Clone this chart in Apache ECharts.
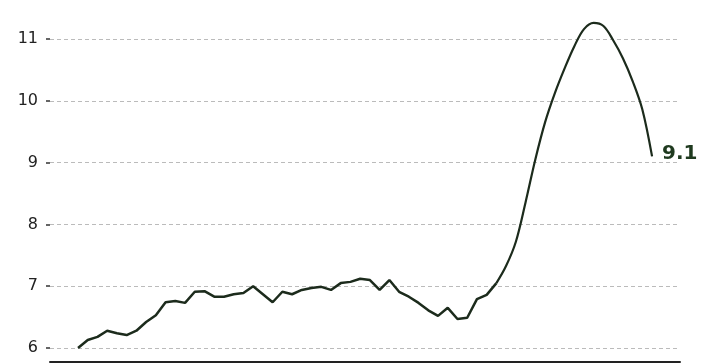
<!DOCTYPE html>
<html>
<head>
<meta charset="utf-8">
<script src="https://cdn.jsdelivr.net/npm/echarts@6/dist/echarts.min.js"></script>
<style>
  html, body { margin: 0; padding: 0; background: #fff; }
  #chart { width: 703px; height: 364px; }
</style>
</head>
<body>
<div id="chart"></div>
<script>
// values, one per period
var values = [
    6.00, 6.13, 6.18, 6.28, 6.24, 6.21, 6.28, 6.42, 6.53, 6.74,
    6.76, 6.73, 6.91, 6.92, 6.83, 6.83, 6.87, 6.89, 7.00, 6.87,
    6.74, 6.91, 6.87, 6.94, 6.97, 6.99, 6.94, 7.05, 7.07, 7.12,
    7.10, 6.94, 7.10, 6.91, 6.83, 6.73, 6.61, 6.52, 6.65, 6.47,
    6.49, 6.79, 6.86, 7.05, 7.33, 7.72, 8.36, 9.05, 9.65, 10.12,
    10.52, 10.88, 11.16, 11.26, 11.21, 10.98, 10.69, 10.32, 9.86, 9.10
];
var yTicks = [6, 7, 8, 9, 10, 11];
// the curve turns smooth from this point on
var smoothFrom = 43;

var chart = echarts.init(document.getElementById('chart'));

var rough = [], smooth = [];
values.forEach(function (v, i) {
    if (i <= smoothFrom) rough.push([i, v]);
    if (i >= smoothFrom) smooth.push([i, v]);
});

var lineColor = '#1c2b1c';

var option = {
    animation: false,
    backgroundColor: '#fff',
    grid: {
        left: 50,
        right: 23,
        top: 39,
        bottom: 16
    },
    xAxis: {
        type: 'value',
        min: -2.88,
        max: 61.87,
        offset: 14,
        axisLine: { show: true, onZero: false, lineStyle: { color: '#222', width: 2 } },
        axisTick: { show: false },
        axisLabel: { show: false },
        splitLine: { show: false }
    },
    yAxis: {
        type: 'value',
        min: yTicks[0],
        max: yTicks[yTicks.length - 1],
        interval: 1,
        axisLine: { show: false, onZero: false },
        axisTick: { show: true, length: 4, lineStyle: { color: '#333', width: 1.5 } },
        axisLabel: {
            margin: 12,
            color: '#222',
            fontSize: 16,
            fontFamily: 'DejaVu Sans'
        },
        splitLine: {
            show: true,
            lineStyle: { color: '#bbb', type: [4, 3], width: 1 }
        }
    },
    series: [{
        type: 'line',
        data: rough,
        clip: false,
        symbol: 'none',
        lineStyle: { color: lineColor, width: 2.5 }
    }, {
        type: 'line',
        data: smooth,
        clip: false,
        symbol: 'none',
        smooth: 0.35,
        lineStyle: { color: lineColor, width: 2.2 },
        endLabel: {
            show: true,
            distance: 10,
            offset: [0, -3],
            formatter: function (p) { return p.value[1].toFixed(1); },
            color: '#1f3a1f',
            fontSize: 20,
            fontWeight: 'bold',
            fontFamily: 'DejaVu Sans'
        }
    }]
};

chart.setOption(option);
</script>
</body>
</html>
